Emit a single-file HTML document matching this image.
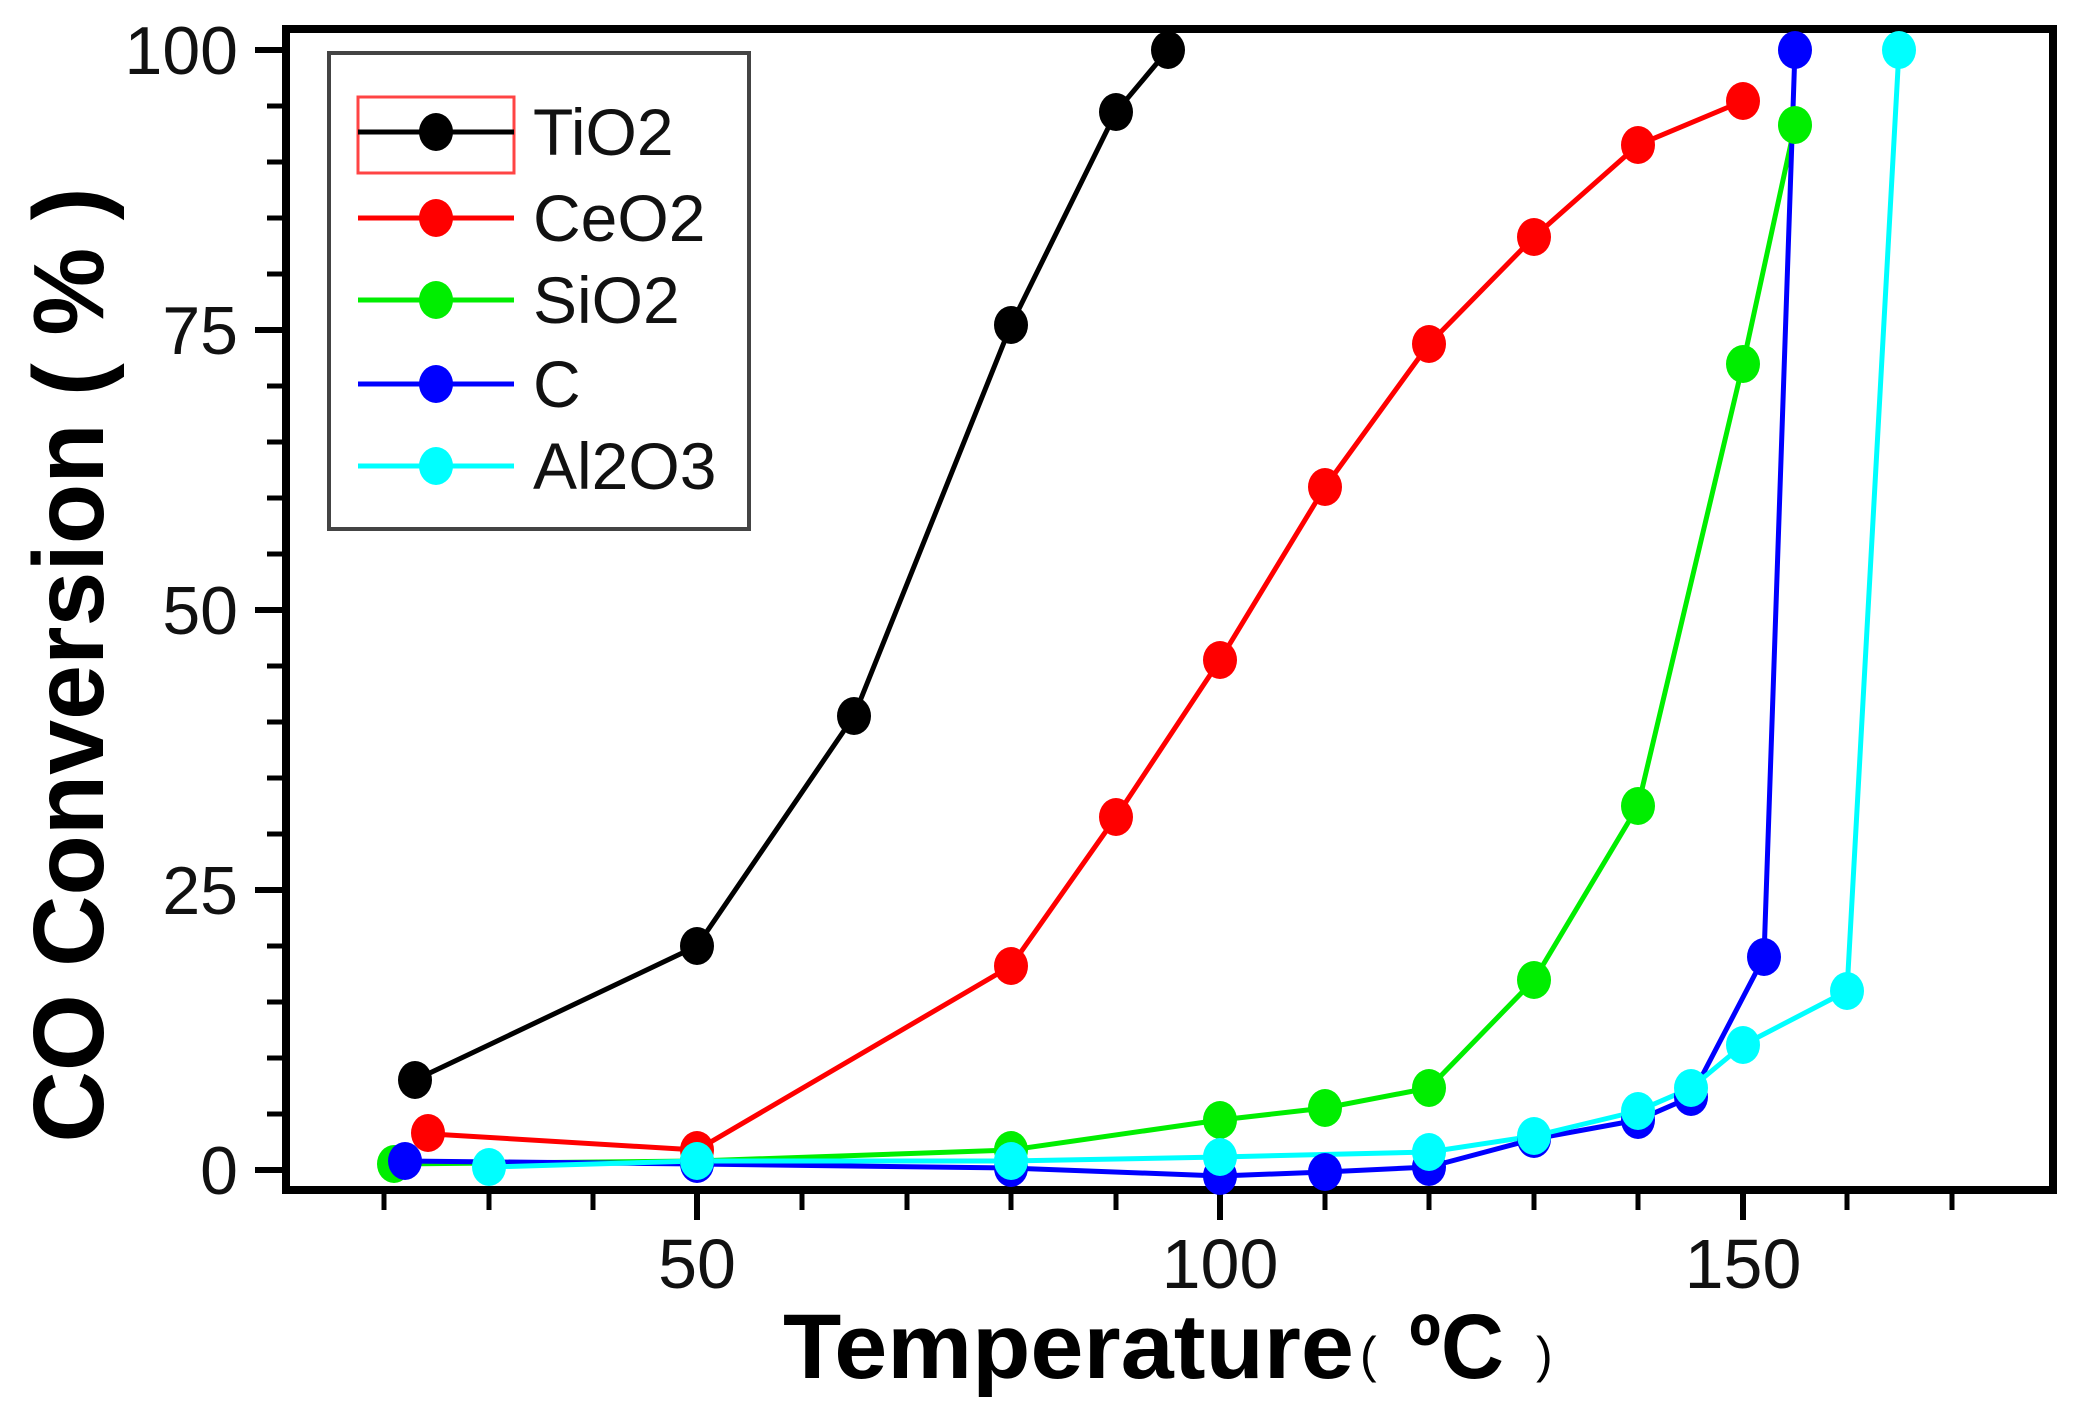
<!DOCTYPE html>
<html><head><meta charset="utf-8"><style>html,body{margin:0;padding:0;background:#fff}svg{display:block}</style></head>
<body>
<svg width="2075" height="1406" viewBox="0 0 2075 1406" xmlns="http://www.w3.org/2000/svg" font-family="Liberation Sans, sans-serif">
<rect width="2075" height="1406" fill="#fff"/>
<!-- axes frame -->
<rect x="286" y="29" width="1767" height="1161" fill="none" stroke="#000" stroke-width="8"/>
<!-- y ticks -->
<g stroke="#000" stroke-width="6">
<line x1="255" y1="1170" x2="286" y2="1170"/>
<line x1="255" y1="890" x2="286" y2="890"/>
<line x1="255" y1="610" x2="286" y2="610"/>
<line x1="255" y1="330" x2="286" y2="330"/>
<line x1="255" y1="50" x2="286" y2="50"/>
</g>
<g stroke="#000" stroke-width="5">
<line x1="267" y1="1114" x2="286" y2="1114"/><line x1="267" y1="1058" x2="286" y2="1058"/><line x1="267" y1="1002" x2="286" y2="1002"/><line x1="267" y1="946" x2="286" y2="946"/>
<line x1="267" y1="834" x2="286" y2="834"/><line x1="267" y1="778" x2="286" y2="778"/><line x1="267" y1="722" x2="286" y2="722"/><line x1="267" y1="666" x2="286" y2="666"/>
<line x1="267" y1="554" x2="286" y2="554"/><line x1="267" y1="498" x2="286" y2="498"/><line x1="267" y1="442" x2="286" y2="442"/><line x1="267" y1="386" x2="286" y2="386"/>
<line x1="267" y1="274" x2="286" y2="274"/><line x1="267" y1="218" x2="286" y2="218"/><line x1="267" y1="162" x2="286" y2="162"/><line x1="267" y1="106" x2="286" y2="106"/>
</g>
<!-- x ticks -->
<g stroke="#000" stroke-width="5">
<line x1="384" y1="1190" x2="384" y2="1210"/><line x1="489" y1="1190" x2="489" y2="1210"/><line x1="593" y1="1190" x2="593" y2="1210"/>
<line x1="802" y1="1190" x2="802" y2="1210"/><line x1="907" y1="1190" x2="907" y2="1210"/><line x1="1011" y1="1190" x2="1011" y2="1210"/><line x1="1116" y1="1190" x2="1116" y2="1210"/>
<line x1="1325" y1="1190" x2="1325" y2="1210"/><line x1="1429" y1="1190" x2="1429" y2="1210"/><line x1="1534" y1="1190" x2="1534" y2="1210"/><line x1="1638" y1="1190" x2="1638" y2="1210"/>
<line x1="1847" y1="1190" x2="1847" y2="1210"/><line x1="1952" y1="1190" x2="1952" y2="1210"/>
</g>
<g stroke="#000" stroke-width="6">
<line x1="697" y1="1190" x2="697" y2="1220"/><line x1="1220" y1="1190" x2="1220" y2="1220"/><line x1="1743" y1="1190" x2="1743" y2="1220"/>
</g>
<!-- tick labels -->
<g font-size="68" fill="#111" text-anchor="end">
<text x="238" y="74">100</text>
<text x="238" y="354">75</text>
<text x="238" y="634">50</text>
<text x="238" y="914">25</text>
<text x="238" y="1194">0</text>
</g>
<g font-size="70" fill="#111" text-anchor="middle">
<text x="697" y="1288">50</text>
<text x="1220" y="1288">100</text>
<text x="1743" y="1288">150</text>
</g>
<!-- axis titles -->
<text transform="translate(103,665) rotate(-90)" text-anchor="middle" font-size="100" font-weight="bold" fill="#000" textLength="955" lengthAdjust="spacingAndGlyphs">CO Conversion ( % )</text>
<text x="783" y="1378" font-size="92" font-weight="bold" fill="#000" textLength="571" lengthAdjust="spacingAndGlyphs">Temperature</text>
<text x="1360" y="1372" font-size="50" fill="#000">(</text>
<text x="1409" y="1378" font-size="92" font-weight="bold" fill="#000" textLength="95" lengthAdjust="spacingAndGlyphs">ºC</text>
<text x="1536" y="1372" font-size="50" fill="#000">)</text>
<!-- series -->
<g fill="none" stroke-width="5" stroke-linejoin="round">
<polyline stroke="#000" points="415,1080 697,946 854,716 1011,325 1116,112 1168,50"/>
<polyline stroke="#f00" points="415,1133 697,1150 1011,966 1116,817 1220,660 1325,487 1429,344 1534,237 1638,145 1743,101"/>
<polyline stroke="#0e0" points="394,1164 697,1161 1011,1150 1220,1120 1325,1108 1429,1088 1534,980 1638,806 1743,364 1795,125"/>
<polyline stroke="#00f" points="405,1161 697,1164 1011,1168 1220,1176 1325,1172 1429,1167 1534,1139 1638,1120 1691,1097 1764,957 1795,50"/>
<polyline stroke="#0ff" points="489,1167 697,1161 1011,1161 1220,1157 1429,1152 1534,1136 1638,1111 1691,1088 1743,1045 1847,991 1899,50"/>
</g>
<g fill="#000">
<ellipse cx="415" cy="1080" rx="17" ry="19"/><ellipse cx="697" cy="946" rx="17" ry="19"/><ellipse cx="854" cy="716" rx="17" ry="19"/><ellipse cx="1011" cy="325" rx="17" ry="19"/><ellipse cx="1116" cy="112" rx="17" ry="19"/><ellipse cx="1168" cy="50" rx="17" ry="19"/>
</g>
<g fill="#f00">
<ellipse cx="428" cy="1133" rx="17" ry="19"/><ellipse cx="697" cy="1150" rx="17" ry="19"/><ellipse cx="1011" cy="966" rx="17" ry="19"/><ellipse cx="1116" cy="817" rx="17" ry="19"/><ellipse cx="1220" cy="660" rx="17" ry="19"/><ellipse cx="1325" cy="487" rx="17" ry="19"/><ellipse cx="1429" cy="344" rx="17" ry="19"/><ellipse cx="1534" cy="237" rx="17" ry="19"/><ellipse cx="1638" cy="145" rx="17" ry="19"/><ellipse cx="1743" cy="101" rx="17" ry="19"/>
</g>
<g fill="#0e0">
<ellipse cx="394" cy="1164" rx="17" ry="19"/><ellipse cx="697" cy="1161" rx="17" ry="19"/><ellipse cx="1011" cy="1150" rx="17" ry="19"/><ellipse cx="1220" cy="1120" rx="17" ry="19"/><ellipse cx="1325" cy="1108" rx="17" ry="19"/><ellipse cx="1429" cy="1088" rx="17" ry="19"/><ellipse cx="1534" cy="980" rx="17" ry="19"/><ellipse cx="1638" cy="806" rx="17" ry="19"/><ellipse cx="1743" cy="364" rx="17" ry="19"/><ellipse cx="1795" cy="125" rx="17" ry="19"/>
</g>
<g fill="#00f">
<ellipse cx="405" cy="1161" rx="17" ry="19"/><ellipse cx="697" cy="1164" rx="17" ry="19"/><ellipse cx="1011" cy="1168" rx="17" ry="19"/><ellipse cx="1220" cy="1176" rx="17" ry="19"/><ellipse cx="1325" cy="1172" rx="17" ry="19"/><ellipse cx="1429" cy="1167" rx="17" ry="19"/><ellipse cx="1534" cy="1139" rx="17" ry="19"/><ellipse cx="1638" cy="1120" rx="17" ry="19"/><ellipse cx="1691" cy="1097" rx="17" ry="19"/><ellipse cx="1764" cy="957" rx="17" ry="19"/><ellipse cx="1795" cy="50" rx="17" ry="19"/>
</g>
<g fill="#0ff">
<ellipse cx="489" cy="1167" rx="17" ry="19"/><ellipse cx="697" cy="1161" rx="17" ry="19"/><ellipse cx="1011" cy="1161" rx="17" ry="19"/><ellipse cx="1220" cy="1157" rx="17" ry="19"/><ellipse cx="1429" cy="1152" rx="17" ry="19"/><ellipse cx="1534" cy="1136" rx="17" ry="19"/><ellipse cx="1638" cy="1111" rx="17" ry="19"/><ellipse cx="1691" cy="1088" rx="17" ry="19"/><ellipse cx="1743" cy="1045" rx="17" ry="19"/><ellipse cx="1847" cy="991" rx="17" ry="19"/><ellipse cx="1899" cy="50" rx="17" ry="19"/>
</g>
<!-- legend -->
<rect x="329" y="53" width="420" height="476" fill="#fff" stroke="#444" stroke-width="4"/>
<rect x="358" y="97" width="156" height="76" fill="none" stroke="#f44" stroke-width="3"/>
<g stroke-width="5">
<line x1="358" y1="132" x2="514" y2="132" stroke="#000"/>
<line x1="358" y1="218" x2="514" y2="218" stroke="#f00"/>
<line x1="358" y1="300" x2="514" y2="300" stroke="#0e0"/>
<line x1="358" y1="384" x2="514" y2="384" stroke="#00f"/>
<line x1="358" y1="466" x2="514" y2="466" stroke="#0ff"/>
</g>
<ellipse cx="436" cy="132" rx="17" ry="19" fill="#000"/>
<ellipse cx="436" cy="218" rx="17" ry="19" fill="#f00"/>
<ellipse cx="436" cy="300" rx="17" ry="19" fill="#0e0"/>
<ellipse cx="436" cy="384" rx="17" ry="19" fill="#00f"/>
<ellipse cx="436" cy="466" rx="17" ry="19" fill="#0ff"/>
<g font-size="66" fill="#111">
<text x="533" y="155">TiO2</text>
<text x="533" y="241">CeO2</text>
<text x="533" y="323">SiO2</text>
<text x="533" y="407">C</text>
<text x="533" y="489">Al2O3</text>
</g>
</svg>
</body></html>
